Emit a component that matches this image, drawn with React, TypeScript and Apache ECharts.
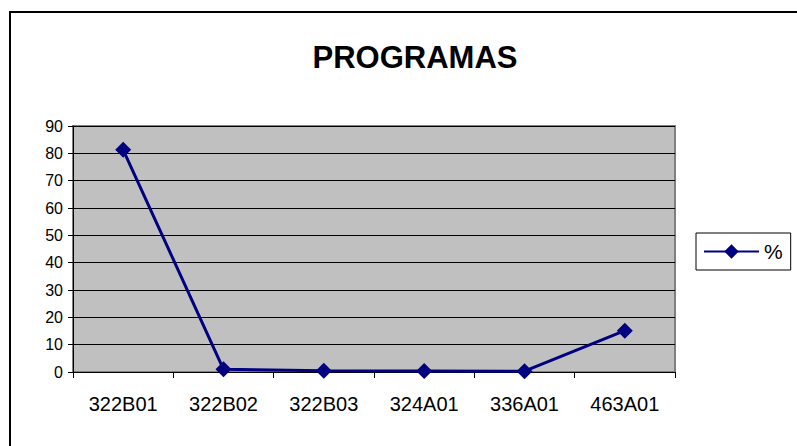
import React, { useEffect, useRef } from "react";
import * as echarts from "echarts";

const categories = ["322B01", "322B02", "322B03", "324A01", "336A01", "463A01"];
const percentValues = [81.3, 1.0, 0.5, 0.4, 0.3, 15.1];
const seriesName = "%";
const titleText = "PROGRAMAS";

export default function App() {
  const ref = useRef<HTMLDivElement>(null);
  useEffect(() => {
    if (!ref.current) return;
    const chart = echarts.init(ref.current, undefined, { renderer: "svg" });
    const font = "'Liberation Sans', Arial, sans-serif";
    chart.setOption({
      animation: false,
      backgroundColor: "#ffffff",
      title: {
        text: titleText,
        left: 410,
        top: 37,
        textAlign: "center",
        textStyle: { fontFamily: font, fontSize: 31, fontWeight: "bold", color: "#000" },
      },
      graphic: [
        {
          type: "rect",
          shape: { x: 10, y: 12, width: 900, height: 900 },
          style: { fill: "none", stroke: "#000", lineWidth: 2 },
          silent: true,
        },
      ],
      legend: {
        left: 696,
        top: 233,
        orient: "vertical",
        padding: [8, 8, 8, 7],
        itemWidth: 55,
        itemHeight: 18,
        itemGap: 0,
        borderColor: "#000",
        borderWidth: 1,
        backgroundColor: "#fff",
        textStyle: { fontFamily: font, fontSize: 21, color: "#000", lineHeight: 18 },
        data: [seriesName],
      },
      grid: {
        left: 73,
        right: 122,
        top: 126,
        bottom: 74,
        show: true,
        backgroundColor: "#C0C0C0",
        borderColor: "#808080",
        borderWidth: 2,
      },
      xAxis: {
        type: "category",
        data: categories,
        boundaryGap: true,
        axisLine: { lineStyle: { color: "#000", width: 1 } },
        axisTick: { show: true, length: 6, alignWithLabel: false, lineStyle: { color: "#000" } },
        axisLabel: { fontFamily: font, fontSize: 20, color: "#000", margin: 22, interval: 0 },
        splitLine: { show: false },
      },
      yAxis: {
        type: "value",
        min: 0,
        max: 90,
        interval: 10,
        axisLine: { show: true, lineStyle: { color: "#000", width: 1 } },
        axisTick: { show: true, length: 5, lineStyle: { color: "#000" } },
        axisLabel: { fontFamily: font, fontSize: 16, color: "#000", margin: 10 },
        splitLine: { show: true, lineStyle: { color: "#000", width: 1 } },
      },
      series: [
        {
          name: seriesName,
          type: "line",
          data: percentValues,
          symbol: "diamond",
          symbolSize: 16,
          itemStyle: { color: "#000080" },
          lineStyle: { color: "#000080", width: 3 },
        },
      ],
    });
    return () => chart.dispose();
  }, []);
  return (
    <div
      ref={ref}
      style={{ position: "fixed", left: 0, top: 0, width: 797, height: 446 }}
    />
  );
}
